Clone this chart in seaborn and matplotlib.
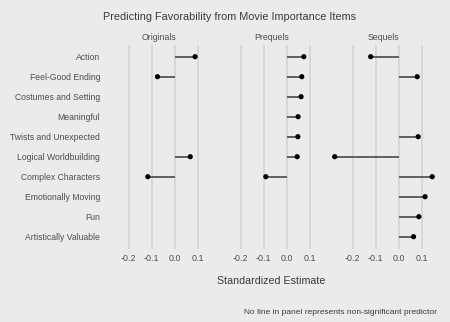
import numpy as np
import pandas as pd
import matplotlib
matplotlib.use("Agg")
import matplotlib.pyplot as plt
import seaborn as sns

items = ["Action", "Feel-Good Ending", "Costumes and Setting", "Meaningful",
         "Twists and Unexpected", "Logical Worldbuilding", "Complex Characters",
         "Emotionally Moving", "Fun", "Artistically Valuable"]
panels = ["Originals", "Prequels", "Sequels"]
nan = np.nan
originals = [0.088, -0.075, nan, nan, nan, 0.067, -0.117, nan, nan, nan]
prequels = [0.074, 0.065, 0.062, 0.049, 0.048, 0.045, -0.091, nan, nan, nan]
sequels = [-0.122, 0.080, nan, nan, 0.084, -0.278, 0.145, 0.114, 0.087, 0.064]
xticks = [-0.2, -0.1, 0.0, 0.1]
xticklabels = ["-0.2", "-0.1", "0.0", "0.1"]

title = "Predicting Favorability from Movie Importance Items"
xlabel = "Standardized Estimate"
caption = "No line in panel represents non-significant predictor"

df = pd.DataFrame({
    "item": items * 3,
    "panel": np.repeat(panels, len(items)),
    "estimate": originals + prequels + sequels,
})

sns.set_theme(style="white")
plt.rcParams["font.family"] = ["Liberation Sans", "DejaVu Sans"]

BG = "#EBEBEB"
GRID = "#D2D2D2"
TXT = "#4D4D4D"

W, H = 450, 322
fig = plt.figure(figsize=(W / 100, H / 100), dpi=100, facecolor=BG)

def fx(px):
    return px / W

def fy(py):
    return 1 - py / H

vals = df["estimate"].dropna()
lo, hi = min(vals.min(), 0), max(vals.max(), 0)
pad = (hi - lo) * 0.05
xlim = (lo - pad, hi + pad)

panel_w = 107.3
gap = 4.7
left0 = 105.8
top, bottom = 44.7, 248.7
ypos = {it: i for i, it in enumerate(items)}

for k, p in enumerate(panels):
    left = left0 + k * (panel_w + gap)
    ax = fig.add_axes([fx(left), fy(bottom), panel_w / W, (bottom - top) / H])
    ax.set_facecolor(BG)
    sub = df[df["panel"] == p].dropna().copy()
    sub["y"] = sub["item"].map(ypos)
    for xt in xticks:
        ax.axvline(xt, color=GRID, lw=1.1, zorder=0)
    ax.hlines(sub["y"], 0, sub["estimate"], color="#555555", lw=1.3, zorder=2)
    sns.scatterplot(data=sub, x="estimate", y="y", ax=ax, color="black",
                    s=14, edgecolor="none", zorder=3, legend=False)
    ax.set_xlim(xlim)
    ax.set_ylim(len(items) - 0.4, -0.6)
    ax.set_xticks(xticks)
    ax.set_xticklabels(xticklabels, fontsize=6.4, color=TXT)
    ax.tick_params(axis="x", length=0, pad=4)
    ax.set_yticks(range(len(items)))
    if k == 0:
        ax.set_yticklabels(items, fontsize=6.2, color=TXT)
        ax.tick_params(axis="y", length=0, pad=4)
    else:
        ax.set_yticklabels([])
        ax.tick_params(axis="y", length=0)
    ax.set_xlabel("")
    ax.set_ylabel("")
    for s in ax.spines.values():
        s.set_visible(False)
    fig.text(fx(left + panel_w / 2), fy(37), p, ha="center", va="center",
             fontsize=6.3, color=TXT)

fig.text(fx(230), fy(17), title, ha="center", va="center", fontsize=7.8, color="#3A3A3A")
fig.text(fx(271), fy(281), xlabel, ha="center", va="center", fontsize=7.7, color="#3A3A3A")
fig.text(fx(437), fy(313), caption, ha="right", va="center", fontsize=6.05, color="#3A3A3A")

fig.savefig("out.png", dpi=100, facecolor=BG)
